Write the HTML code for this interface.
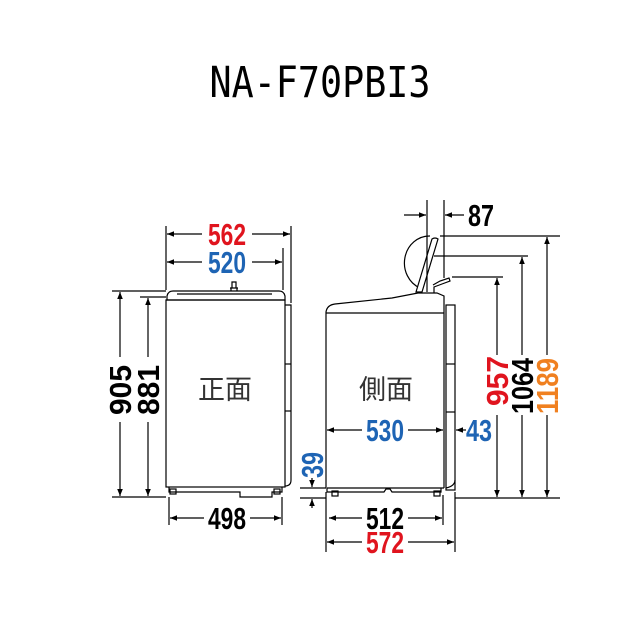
<!DOCTYPE html>
<html><head><meta charset="utf-8"><style>
html,body{margin:0;padding:0;background:#fff;}
svg{display:block}
.n{font-family:"Liberation Sans",sans-serif;font-weight:bold;font-size:31px;}
</style></head><body>
<svg width="640" height="640" viewBox="0 0 640 640" xmlns="http://www.w3.org/2000/svg">
<defs>
<marker id="a" viewBox="0 0 10 10" refX="10" refY="5" markerWidth="7" markerHeight="7" orient="auto-start-reverse" markerUnits="userSpaceOnUse"><path d="M0,1 L10,5 L0,9 Z" fill="#000"/></marker>
</defs>
<text x="320" y="97" text-anchor="middle" textLength="221" lengthAdjust="spacingAndGlyphs" font-family="DejaVu Sans Mono, Liberation Mono, monospace" font-size="43" fill="#000">NA-F70PBI3</text>

<g stroke="#000" stroke-width="1.2" fill="none">
<path d="M167,300 L167,296 Q168,291 173,291 L279,291 Q284,291 285,296 L285,300 Z" fill="#fff"/>
<line x1="177" y1="294" x2="272" y2="294"/>
<path d="M231,291 L231,288 L237,288 L237,291 M230,288 L238,288 M232,288 L232,282 L236,282 L236,288"/>
<rect x="166" y="300" width="119" height="187"/>
<path d="M285,305 L291,305 L291,480 Q291,486 285,486"/>
<line x1="285" y1="364" x2="291" y2="364"/><line x1="285" y1="411" x2="291" y2="411"/>
<path d="M169,487 L169,492 L240,492 L240,497 L272,497 L272,492 L282,492 L282,487"/>
<rect x="170" y="489" width="6" height="5"/><rect x="274" y="489" width="6" height="5"/>
<line x1="166" y1="226" x2="166" y2="290"/><line x1="291" y1="226" x2="291" y2="303"/>
<line x1="283" y1="248" x2="283" y2="290"/>
<line x1="167" y1="234" x2="202" y2="234" marker-start="url(#a)"/><line x1="252" y1="234" x2="290" y2="234" marker-end="url(#a)"/>
<line x1="167" y1="262" x2="202" y2="262" marker-start="url(#a)"/><line x1="252" y1="262" x2="282" y2="262" marker-end="url(#a)"/>
<line x1="112" y1="291" x2="166" y2="291"/><line x1="140" y1="297" x2="166" y2="297"/>
<line x1="112" y1="497" x2="166" y2="497"/>
<line x1="169" y1="497" x2="169" y2="525"/><line x1="282" y1="497" x2="282" y2="525"/>
<line x1="120" y1="292" x2="120" y2="357" marker-start="url(#a)"/><line x1="120" y1="422" x2="120" y2="496" marker-end="url(#a)"/>
<line x1="148" y1="298" x2="148" y2="357" marker-start="url(#a)"/><line x1="148" y1="422" x2="148" y2="496" marker-end="url(#a)"/>
<line x1="170" y1="518" x2="204" y2="518" marker-start="url(#a)"/><line x1="250" y1="518" x2="281" y2="518" marker-end="url(#a)"/>

<path d="M326,488 L326,312 Q327,305 335,304 L392,298 L418,293 L437,293 L444,296 L444,488" fill="#fff"/>
<line x1="326" y1="313" x2="444" y2="313"/>
<path d="M420,288 A25,27 0 0 1 430,236"/>
<path d="M416,292 L432,239 Q435,237 438,239 L422,292 Z" fill="#fff"/>
<path d="M434,293 L434,287 L442,284 L450,281 L449,278 L440,281 L433,285"/>
<rect x="446" y="305" width="9" height="185" fill="#fff"/>
<path d="M455,480 Q455,486 446,488"/>
<line x1="446" y1="364" x2="455" y2="364"/><line x1="446" y1="412" x2="455" y2="412"/>
<path d="M327,488 L444,488 M327,488 L327,492 L384,492 L386,489 L390,489 L392,492 L441,492 L441,488"/>
<rect x="332" y="491" width="6" height="5"/><rect x="434" y="491" width="6" height="5"/>
<line x1="427" y1="200" x2="427" y2="292"/><line x1="444" y1="200" x2="444" y2="278"/>
<line x1="404" y1="215" x2="426" y2="215" marker-end="url(#a)"/><line x1="464" y1="215" x2="445" y2="215" marker-end="url(#a)"/>
<line x1="440" y1="236" x2="560" y2="236"/><line x1="434" y1="256" x2="528" y2="256"/><line x1="452" y1="277" x2="503" y2="277"/>
<line x1="455" y1="498" x2="560" y2="498"/>
<line x1="497" y1="278" x2="497" y2="355" marker-start="url(#a)"/><line x1="497" y1="415" x2="497" y2="497" marker-end="url(#a)"/>
<line x1="522" y1="257" x2="522" y2="355" marker-start="url(#a)"/><line x1="522" y1="415" x2="522" y2="497" marker-end="url(#a)"/>
<line x1="547" y1="237" x2="547" y2="355" marker-start="url(#a)"/><line x1="547" y1="415" x2="547" y2="497" marker-end="url(#a)"/>
<line x1="327" y1="430" x2="362" y2="430" marker-start="url(#a)"/><line x1="408" y1="430" x2="443" y2="430" marker-end="url(#a)"/>
<line x1="466" y1="430" x2="456" y2="430" marker-end="url(#a)"/>
<line x1="326" y1="492" x2="326" y2="552"/><line x1="455" y1="492" x2="455" y2="552"/>
<line x1="443" y1="495" x2="443" y2="525"/>
<line x1="329" y1="518" x2="362" y2="518" marker-start="url(#a)"/><line x1="408" y1="518" x2="442" y2="518" marker-end="url(#a)"/>
<line x1="327" y1="542" x2="362" y2="542" marker-start="url(#a)"/><line x1="408" y1="542" x2="454" y2="542" marker-end="url(#a)"/>
<line x1="300" y1="488" x2="326" y2="488"/><line x1="300" y1="498" x2="326" y2="498"/>
<line x1="312" y1="478" x2="312" y2="487" marker-end="url(#a)"/><line x1="312" y1="508" x2="312" y2="499" marker-end="url(#a)"/>
</g>

<text x="225" y="399" text-anchor="middle" font-family="Noto Sans CJK JP, sans-serif" font-size="27" fill="#333">正面</text>
<text x="386" y="399" text-anchor="middle" font-family="Noto Sans CJK JP, sans-serif" font-size="27" fill="#333">側面</text>

<g class="n" text-anchor="middle">
<text x="227" y="245" fill="#e0141e" textLength="38" lengthAdjust="spacingAndGlyphs">562</text>
<text x="227" y="273" fill="#1e64b4" textLength="38" lengthAdjust="spacingAndGlyphs">520</text>
<text x="227" y="529" fill="#000" textLength="38" lengthAdjust="spacingAndGlyphs">498</text>
<text x="481" y="226" fill="#000" textLength="26" lengthAdjust="spacingAndGlyphs">87</text>
<text x="385" y="441" fill="#1e64b4" textLength="38" lengthAdjust="spacingAndGlyphs">530</text>
<text x="479" y="441" fill="#1e64b4" textLength="26" lengthAdjust="spacingAndGlyphs">43</text>
<text x="385" y="529" fill="#000" textLength="38" lengthAdjust="spacingAndGlyphs">512</text>
<text x="385" y="553" fill="#e0141e" textLength="38" lengthAdjust="spacingAndGlyphs">572</text>
<text transform="translate(131,390) rotate(-90)" fill="#000" textLength="50" lengthAdjust="spacingAndGlyphs">905</text>
<text transform="translate(159,390) rotate(-90)" fill="#000" textLength="50" lengthAdjust="spacingAndGlyphs">881</text>
<text transform="translate(508,381) rotate(-90)" fill="#e0141e" textLength="50" lengthAdjust="spacingAndGlyphs">957</text>
<text transform="translate(533,386) rotate(-90)" fill="#000" textLength="56" lengthAdjust="spacingAndGlyphs">1064</text>
<text transform="translate(558,386) rotate(-90)" fill="#f08020" textLength="56" lengthAdjust="spacingAndGlyphs">1189</text>
<text transform="translate(323,465) rotate(-90)" fill="#1e64b4" textLength="26" lengthAdjust="spacingAndGlyphs">39</text>
</g>
</svg>
</body></html>
